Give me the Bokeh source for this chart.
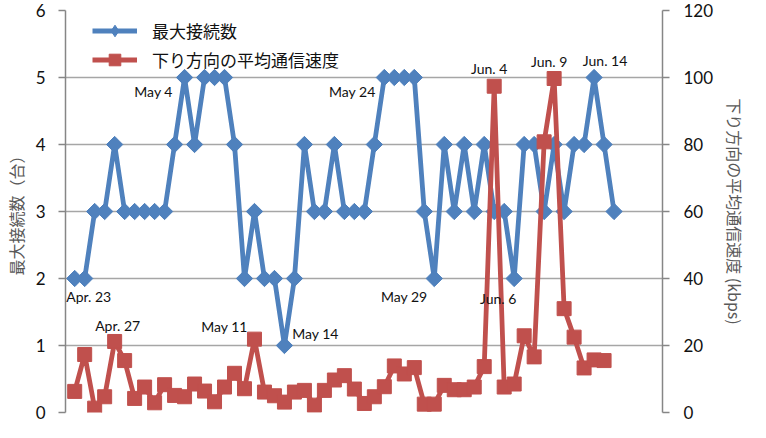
from bokeh.plotting import figure
from bokeh.models import (Range1d, LinearAxis, FixedTicker, Legend, LegendItem,
                          Label)
from bokeh.embed import file_html
from bokeh.resources import INLINE

# ---------------- data ----------------
max_connections = [2, 2, 3, 3, 4, 3, 3, 3, 3, 3, 4, 5, 4, 5, 5, 5, 4, 2, 3, 2,
                   2, 1, 2, 4, 3, 3, 4, 3, 3, 3, 4, 5, 5, 5, 5, 3, 2, 4, 3, 4,
                   3, 4, 3, 3, 2, 4, 4, 3, 4, 3, 4, 4, 5, 4, 3]
down_speed = [6.3, 17.3, 1.3, 4.7, 21.2, 15.5, 4.2, 7.6, 2.9, 8.3, 5.1, 4.7,
              8.5, 6.4, 3.2, 7.6, 11.7, 7.1, 21.9, 6.1, 5.0, 3.1, 6.1, 6.6,
              2.2, 6.6, 9.7, 11.0, 7.0, 2.7, 4.7, 7.7, 13.9, 11.5, 13.4, 2.5,
              2.5, 8.1, 6.8, 6.8, 7.6, 13.7, 97.4, 7.6, 8.5, 22.9, 16.6, 80.8,
              99.7, 31.0, 22.5, 13.3, 15.7, 15.5]
day_index = list(range(len(max_connections)))
speed_index = day_index[:len(down_speed)]

blue_label_idx = [0, 11, 21, 31, 36, 44, 52]
blue_label_text = ["Apr. 23", "May 4", "May 14", "May 24", "May 29", "Jun. 6", "Jun. 14"]
red_label_idx = [4, 18, 42, 48]
red_label_text = ["Apr. 27", "May 11", "Jun. 4", "Jun. 9"]

left_ticks = [0, 1, 2, 3, 4, 5, 6]
right_ticks = [0, 20, 40, 60, 80, 100, 120]

series_names = ["最大接続数", "下り方向の平均通信速度"]
left_title = "最大接続数（台）"
right_title = "下り方向の平均通信速度 (kbps)"

# ---------------- style ----------------
BLUE = "#4F81BD"
RED = "#C0504D"
GRID = "#A6A6A6"
AXIS = "#868686"
LATIN = "Lato"
CJK = "Noto Sans CJK JP"

p = figure(width=750, height=422, output_backend="svg", toolbar_location=None,
           x_range=Range1d(-0.92, 58.85), y_range=Range1d(0, 6),
           x_axis_location=None, y_axis_location="left",
           min_border_left=61, min_border_right=83, min_border_top=10,
           min_border_bottom=10)
p.outline_line_color = None
p.background_fill_color = "white"
p.border_fill_color = "white"
p.extra_y_ranges = {"right": Range1d(0, 120)}

for g in p.xgrid:
    g.visible = False
p.ygrid.ticker = FixedTicker(ticks=left_ticks)
p.ygrid.grid_line_color = GRID
p.ygrid.grid_line_width = 1.3

yl = p.yaxis[0]
yl.ticker = FixedTicker(ticks=left_ticks)
yl.axis_label = left_title
raxis = LinearAxis(y_range_name="right", ticker=FixedTicker(ticks=right_ticks),
                   axis_label=right_title)
p.add_layout(raxis, "right")
for ax in (yl, raxis):
    ax.axis_line_color = AXIS
    ax.axis_line_width = 1.5
    ax.major_tick_line_color = AXIS
    ax.major_tick_line_width = 1.5
    ax.major_tick_in = 0
    ax.major_tick_out = 7
    ax.minor_tick_line_color = None
    ax.major_label_text_font = LATIN
    ax.major_label_text_font_size = "17px"
    ax.major_label_text_color = "#111111"
    ax.axis_label_text_font = CJK
    ax.axis_label_text_font_size = "16px"
    ax.axis_label_text_font_style = "normal"
    ax.axis_label_text_color = "#595959"
yl.major_label_standoff = 13
yl.axis_label_standoff = 5
raxis.major_label_standoff = 14
raxis.axis_label_standoff = 7

bl = p.line(day_index, max_connections, line_color=BLUE, line_width=4.8,
            line_join="round")
bs = p.scatter(day_index, max_connections, marker="square", angle=0.785398,
               size=11.5, fill_color=BLUE, line_color=BLUE)
# zero-size diamond renderer used only for the legend swatch
bd = p.scatter(day_index, max_connections, marker="diamond", size=0,
               fill_color=BLUE, line_color=BLUE)
rl = p.line(speed_index, down_speed, line_color=RED,
            line_width=4.8, line_join="round", y_range_name="right")
rs = p.scatter(speed_index, down_speed, marker="square",
               size=14, fill_color=RED, line_color=RED, y_range_name="right")

# annotations (offsets in screen px, positive y = up)
blue_dx = [14, -31, 31, -32, -30, -16, 11]
blue_dy = [-18, -14, 12, -14, -18, -20, 17]
red_dx = [3, -30, -5, -5]
red_dy = [15.5, 13, 18, 17]
for idx, txt, dx, dy in zip(blue_label_idx, blue_label_text, blue_dx, blue_dy):
    p.add_layout(Label(x=idx, y=max_connections[idx], text=txt, x_offset=dx,
                       y_offset=dy, text_font=LATIN, text_font_size="14px",
                       text_color="#111111", text_align="center",
                       text_baseline="middle"))
for idx, txt, dx, dy in zip(red_label_idx, red_label_text, red_dx, red_dy):
    p.add_layout(Label(x=idx, y=down_speed[idx], text=txt, x_offset=dx,
                       y_offset=dy, y_range_name="right", text_font=LATIN,
                       text_font_size="14px", text_color="#111111",
                       text_align="center", text_baseline="middle"))

legend = Legend(items=[LegendItem(label=series_names[0], renderers=[bl, bd]),
                       LegendItem(label=series_names[1], renderers=[rl, rs])],
                location=(27, 338), glyph_width=45, glyph_height=29,
                label_height=29, label_standoff=15, spacing=0, padding=5,
                margin=0, border_line_color=None, background_fill_alpha=0,
                label_text_font=CJK, label_text_font_size="17px",
                label_text_color="#111111")
p.add_layout(legend)

open("out.html", "w").write(file_html(p, INLINE))
